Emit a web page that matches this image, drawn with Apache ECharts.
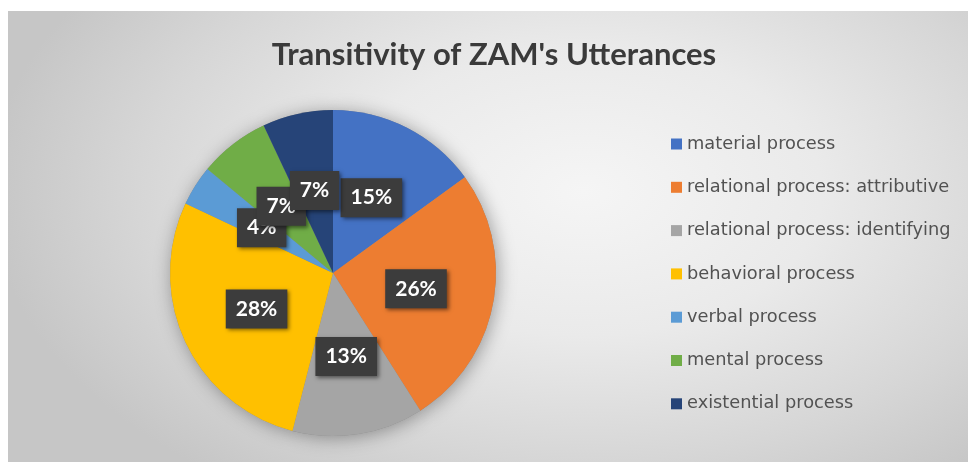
<!DOCTYPE html>
<html>
<head>
<meta charset="utf-8">
<script src="https://cdn.jsdelivr.net/npm/echarts@6/dist/echarts.min.js"></script>
<style>
  html, body { margin: 0; padding: 0; background: #ffffff; width: 968px; height: 462px; overflow: hidden; }
  #chart {
    position: absolute; left: 8px; top: 11px; width: 960px; height: 451px;
    background: radial-gradient(ellipse 62% 80% at 60% 40%, #f5f5f5 0%, #eaeaea 40%, #d6d6d6 75%, #c6c6c6 100%);
  }
</style>
</head>
<body>
<div id="chart"></div>
<script>
const titleText = "Transitivity of ZAM's Utterances";
const categories = [
  "material process",
  "relational process: attributive",
  "relational process: identifying",
  "behavioral process",
  "verbal process",
  "mental process",
  "existential process"
];
const values = [15, 26, 13, 28, 4, 7, 7];
const colors = ["#4472C4", "#ED7D31", "#A5A5A5", "#FFC000", "#5B9BD5", "#70AD47", "#264478"];

const pieData = categories.map((name, i) => ({ name: name, value: values[i], itemStyle: { color: colors[i] } }));
const shadowData = categories.map((name, i) => ({ name: name, value: values[i] }));

const chart = echarts.init(document.getElementById('chart'), null, { renderer: 'canvas' });
chart.setOption({
  backgroundColor: 'transparent',
  animation: false,
  title: {
    text: titleText,
    left: 481,
    top: 23,
    textAlign: 'center',
    textStyle: { fontFamily: 'Lato', fontWeight: 'bold', fontSize: 31, color: '#3a3a3a' }
  },
  legend: {
    orient: 'vertical',
    left: 658,
    top: 118,
    itemWidth: 11,
    itemHeight: 11,
    itemGap: 23.3,
    icon: 'rect',
    data: categories,
    textStyle: { fontFamily: 'DejaVu Sans', fontSize: 17.8, lineHeight: 20, color: '#525252' }
  },
  series: [
    {
      type: 'pie',
      name: 'main',
      center: [325, 262],
      radius: [0, 163],
      startAngle: 90,
      clockwise: true,
      z: 3,
      data: pieData,
      itemStyle: { borderWidth: 0 },
      label: {
        show: true,
        position: 'inside',
        formatter: '{c}%',
        color: '#ffffff',
        fontFamily: 'Lato',
        fontWeight: 'bold',
        fontSize: 21,
        backgroundColor: '#3c3c3c',
        padding: [9, 10],
        shadowBlur: 4,
        shadowColor: 'rgba(0,0,0,0.5)',
        shadowOffsetX: 2,
        shadowOffsetY: 2
      },
      labelLayout: { hideOverlap: false },
      labelLine: { show: false },
      emphasis: { disabled: true }
    },
    {
      type: 'pie',
      name: 'shadow',
      center: [325, 262],
      radius: [0, 163],
      startAngle: 90,
      clockwise: true,
      z: 1,
      silent: true,
      data: shadowData,
      itemStyle: { color: '#888', shadowBlur: 18, shadowColor: 'rgba(0,0,0,0.35)', shadowOffsetX: 2, shadowOffsetY: 2 },
      label: { show: false },
      labelLine: { show: false },
      emphasis: { disabled: true }
    }
  ]
});
</script>
</body>
</html>
